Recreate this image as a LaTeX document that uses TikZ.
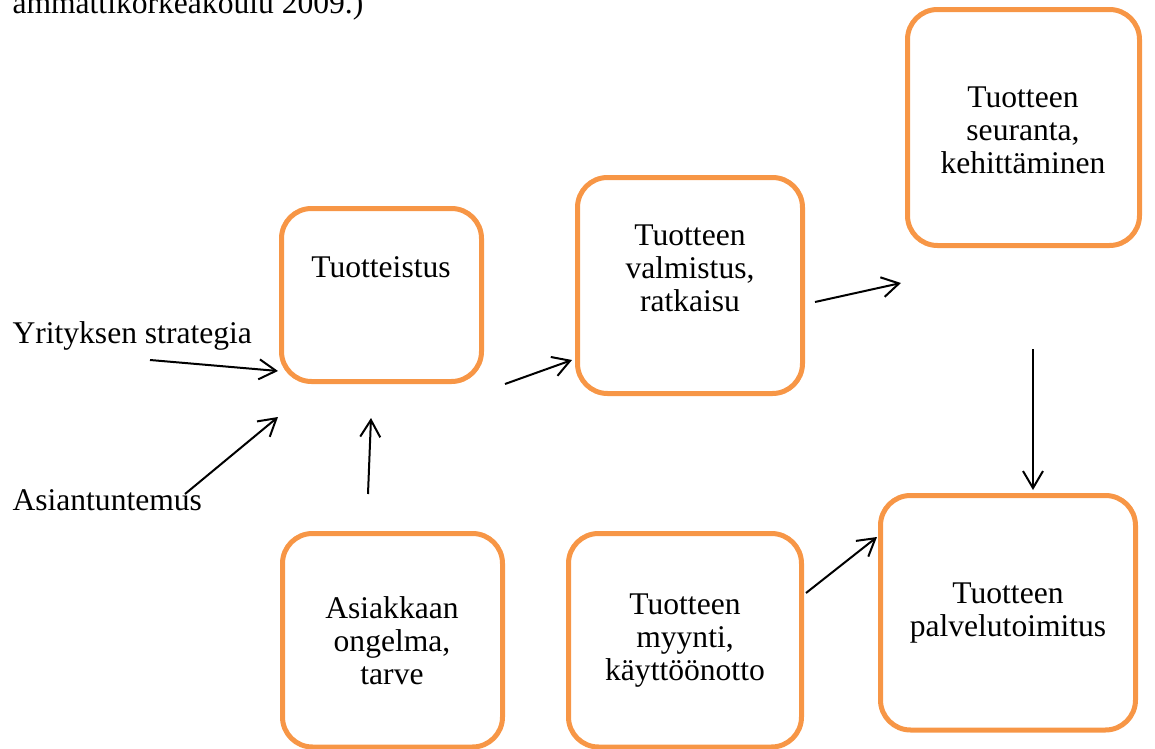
\documentclass[tikz,border=0pt]{standalone}
\usepackage{fontspec}
\setmainfont{Liberation Serif}
\usetikzlibrary{arrows.meta}
\definecolor{boxorange}{RGB}{247,150,70}
\newcommand\pxu{0.38pt}
\tikzset{
  box/.style n args={2}{draw=boxorange, line width=5*\pxu, rounded corners=30*\pxu,
    minimum width=#1*\pxu, minimum height=#2*\pxu, inner sep=0pt, outer sep=0pt},
  lbl/.style={font=\fontsize{12pt}{12.54pt}\selectfont, align=center, inner sep=0pt},
  arr/.style={line width=2*\pxu, -{Straight Barb[length=17*\pxu, width=20*\pxu, line width=2*\pxu]}}
}
\begin{document}
\begin{tikzpicture}[x=0.38pt, y=-0.38pt]
\useasboundingbox (0,0) rectangle (1155,749);
\clip (0,0) rectangle (1155,749);
% boxes
\node[box={200}{173}] (b1) at (381.5,295) {};
\node[box={225}{216}] (b2) at (690,285.5) {};
\node[box={232}{236}] (b3) at (1023.5,127.5) {};
\node[box={255}{234.5}] (b4) at (1008,612.75) {};
\node[box={233}{213.5}] (b5) at (685,640.25) {};
\node[box={220}{213.5}] (b6) at (392.5,640.25) {};
% box texts
\node[lbl] (t1) at (381,267) {Tuotteistus};
\node[lbl] (t2) at (690,268) {Tuotteen\\valmistus,\\ratkaisu};
\node[lbl] (t3) at (1023,130) {Tuotteen\\seuranta,\\kehittäminen};
\node[lbl] (t4) at (1008,613) {Tuotteen\\palvelutoimitus};
\node[lbl] (t5) at (685,641) {Tuotteen\\myynti,\\käyttöönotto};
\node[lbl] (t6) at (392,641) {Asiakkaan\\ongelma,\\tarve};
% free texts
\node[lbl, anchor=base west] (top) at (12,14) {ammattikorkeakoulu 2009.)};
\node[lbl, anchor=base west] (ys) at (12,343) {Yrityksen strategia};
\node[lbl, anchor=base west] (as) at (12,510) {Asiantuntemus};
% connector end points
\coordinate (ys0) at (150,360);
\coordinate (ys1) at (278,371);
\coordinate (as0) at (185,494);
\coordinate (as1) at (278,417);
\coordinate (up0) at (368,494);
\coordinate (up1) at (371,418);
\coordinate (m0) at (505,384);
\coordinate (m1) at (572,360);
\coordinate (n0) at (815,302);
\coordinate (n1) at (901,283);
\coordinate (d0) at (1033,349);
\coordinate (d1) at (1033,490);
\coordinate (s0) at (806,593);
\coordinate (s1) at (877,537);
% connectors
\draw[arr] (ys0) -- (ys1);
\draw[arr] (as0) -- (as1);
\draw[arr] (up0) -- (up1);
\draw[arr] (m0) -- (m1);
\draw[arr] (n0) -- (n1);
\draw[arr] (d0) -- (d1);
\draw[arr] (s0) -- (s1);
\end{tikzpicture}
\end{document}
